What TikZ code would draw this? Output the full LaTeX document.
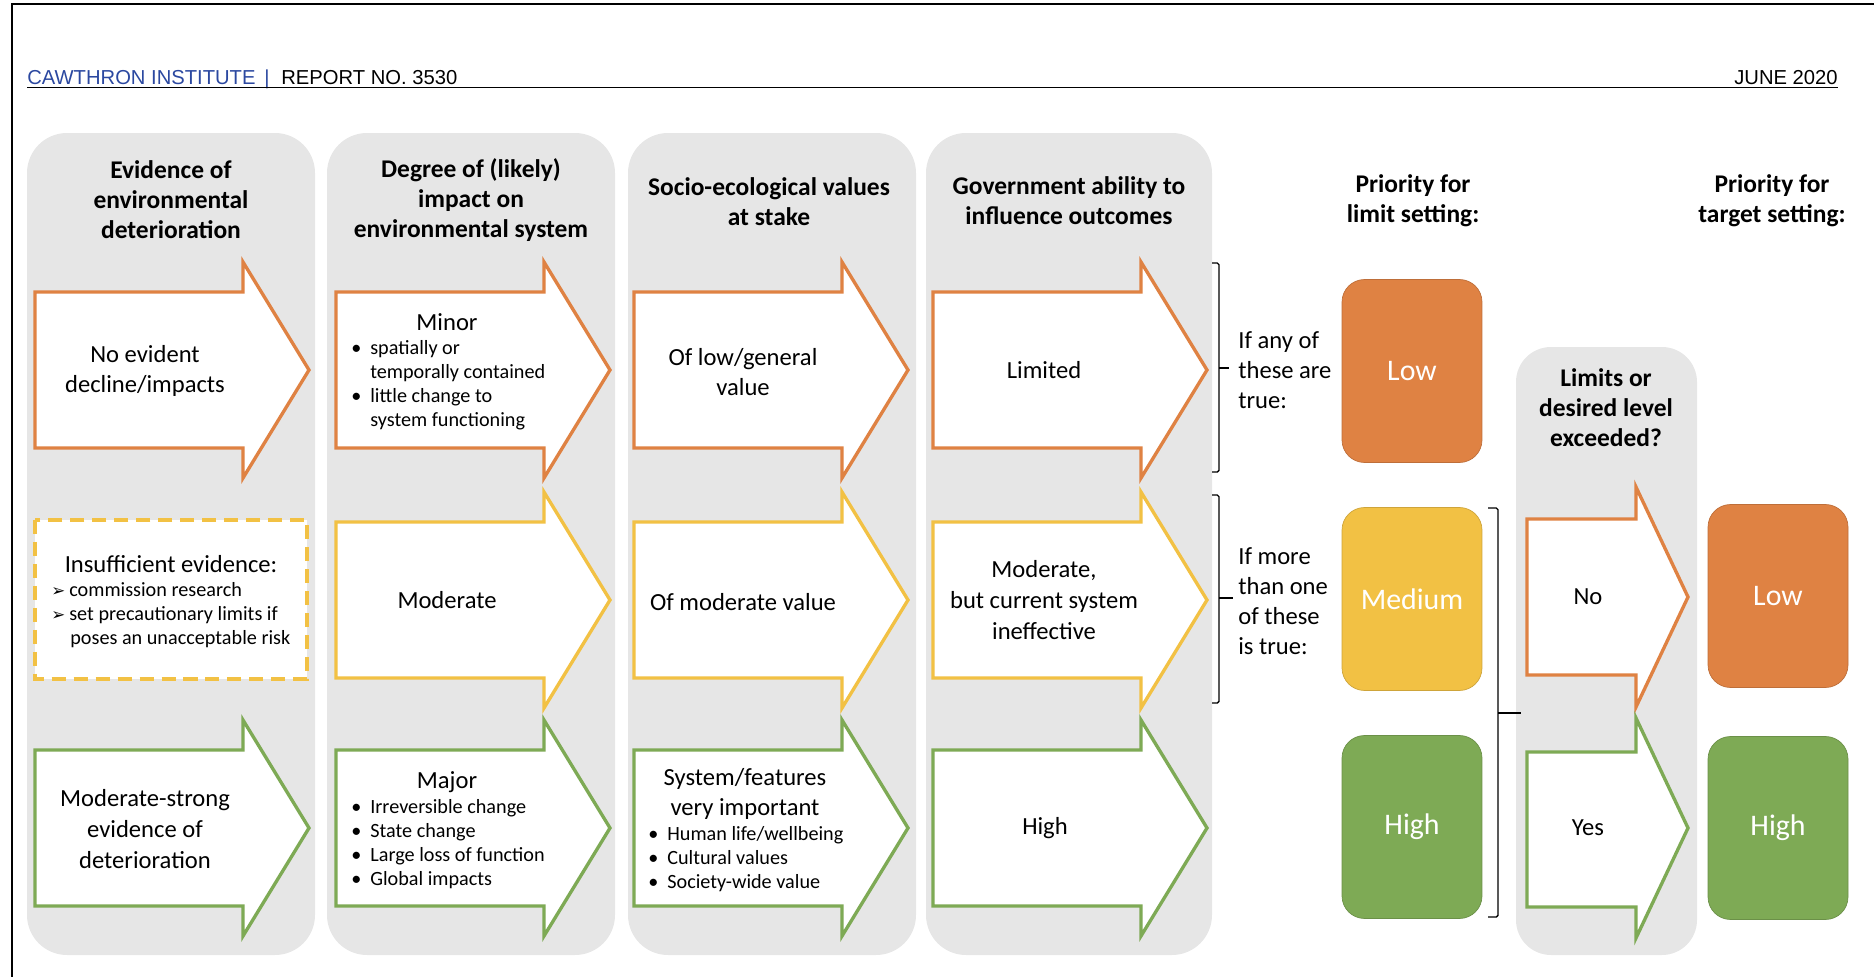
\documentclass[tikz,border=0pt]{standalone}
\usepackage{fontspec}
\setmainfont{Carlito}
\newfontfamily\reportfont{Liberation Sans}
\newfontfamily\dingfont{DejaVu Sans}
\usepackage{xcolor}
\usepackage{tikz}
\usetikzlibrary{positioning}

\definecolor{cawblue}{RGB}{43,72,160}
\definecolor{colgrey}{RGB}{230,230,230}
\definecolor{lowor}{RGB}{223,130,67}
\definecolor{medyel}{RGB}{242,193,68}
\definecolor{highgr}{RGB}{126,170,85}

\newcommand{\bul}{\makebox[0.38cm][l]{\textbullet}}
\newcommand{\nobul}{\hspace*{0.38cm}}
\newcommand{\pointer}{\makebox[0.36cm][l]{\dingfont\fontsize{9.5}{9.5}\selectfont ➢}}

\begin{document}
\begin{tikzpicture}[x=0.02cm, y=-0.02cm,
        colbox/.style={fill=colgrey, rounded corners=0.8cm},
        flow/.style={draw=#1, line width=1.9pt, fill=white},
        headtxt/.style={font=\bfseries\fontsize{14.5}{17}\selectfont, align=center},
        maintxt/.style={font=\fontsize{14}{17.5}\selectfont, align=center},
        listtxt/.style={font=\fontsize{11.5}{13.6}\selectfont, align=left, anchor=west, inner sep=0pt},
        sidetxt/.style={font=\fontsize{14}{17}\selectfont, align=left, anchor=west, inner sep=0pt},
        prio/.style={fill=#1, draw=#1!85!black, rounded corners=0.45cm, minimum width=2.8cm,
            minimum height=3.66cm, text=white, font=\fontsize{17}{20}\selectfont},
        bracketline/.style={draw, line width=0.8pt, rounded corners=1pt},
        pagehead/.style={inner sep=0pt, font=\reportfont\fontsize{11.5}{14}\selectfont}]
        \useasboundingbox (0,0) rectangle (1874,977);

        % page frame and running head
        \draw[line width=1.1pt] (12,977) -- (12,4) -- (1874,4);
        \node[pagehead, anchor=base west, text=cawblue] (inst) at (27,84) {CAWTHRON INSTITUTE};
        \node[pagehead, anchor=base, text=cawblue] (bar) at (267,84) {|};
        \node[pagehead, anchor=base west] (report) at (281,84) {REPORT NO. 3530};
        \node[pagehead, anchor=base east] (date) at (1838,84) {JUNE 2020};
        \draw[line width=1.1pt] (27,87.5) -- (1838,87.5);

        % grey columns
        \fill[colbox] (27,133) rectangle (315,955);
        \fill[colbox] (327,133) rectangle (615,955);
        \fill[colbox] (628,133) rectangle (916,955);
        \fill[colbox] (926,133) rectangle (1212,955);
        \fill[colbox, rounded corners=0.7cm] (1516,347) rectangle (1697,955);

        \node[headtxt] (hdEvid) at (171,200) {Evidence of\\environmental\\deterioration};
        \node[headtxt] (hdImpact) at (471,200) {Degree of (likely)\\impact on\\environmental system};
        \node[headtxt] (hdValue) at (769,202) {Socio-ecological values\\at stake};
        \node[headtxt] (hdGov) at (1069,201) {Government ability to\\influence outcomes};
        \node[headtxt] (hdLimit) at (1413,201) {Priority for\\limit setting:};
        \node[headtxt] (hdTarget) at (1772,201) {Priority for\\target setting:};
        \node[headtxt] (hdExceed) at (1606,408) {Limits or\\desired level\\exceeded?};

        % first row
        \draw[flow=lowor] (35,292) -- (243,292) -- (243,262) -- (309,370) -- (243,478) -- (243,448) -- (35,448) -- cycle;
        \draw[flow=lowor] (336,292) -- (544,292) -- (544,262) -- (610,370) -- (544,478) -- (544,448) -- (336,448) -- cycle;
        \draw[flow=lowor] (634,292) -- (842,292) -- (842,262) -- (908,370) -- (842,478) -- (842,448) -- (634,448) -- cycle;
        \draw[flow=lowor] (933,292) -- (1141,292) -- (1141,262) -- (1207,370) -- (1141,478) -- (1141,448) -- (933,448) -- cycle;

        \node[maintxt] (noDecline) at (145,371) {No evident\\decline/impacts};
        \node[maintxt] (minor) at (447,322) {Minor};
        \node[listtxt] (minorList) at (351,385) {\bul spatially or\\\nobul temporally contained\\\bul little change to\\\nobul system functioning};
        \node[maintxt] (lowValue) at (743,372) {Of low/general\\value};
        \node[maintxt] (limited) at (1044,370) {Limited};

        % second row
        \draw[flow=medyel, dash pattern=on 8pt off 4.5pt] (35,520) rectangle (307,679);
        \draw[flow=medyel] (336,522) -- (544,522) -- (544,492) -- (610,600) -- (544,708) -- (544,678) -- (336,678) -- cycle;
        \draw[flow=medyel] (634,522) -- (842,522) -- (842,492) -- (908,600) -- (842,708) -- (842,678) -- (634,678) -- cycle;
        \draw[flow=medyel] (933,522) -- (1141,522) -- (1141,492) -- (1207,600) -- (1141,708) -- (1141,678) -- (933,678) -- cycle;

        \node[maintxt] (insuff) at (171,564) {Insufficient evidence:};
        \node[listtxt] (insuffList) at (51,615) {\pointer commission research\\\pointer set precautionary limits if\\\nobul poses an unacceptable risk};
        \node[maintxt] (moderate) at (447,600) {Moderate};
        \node[maintxt] (modValue) at (743,602) {Of moderate value};
        \node[maintxt] (modGov) at (1044,600) {Moderate,\\but current system\\ineffective};

        % third row
        \draw[flow=highgr] (35,750) -- (243,750) -- (243,720) -- (309,828) -- (243,936) -- (243,906) -- (35,906) -- cycle;
        \draw[flow=highgr] (336,750) -- (544,750) -- (544,720) -- (610,828) -- (544,936) -- (544,906) -- (336,906) -- cycle;
        \draw[flow=highgr] (634,750) -- (842,750) -- (842,720) -- (908,828) -- (842,936) -- (842,906) -- (634,906) -- cycle;
        \draw[flow=highgr] (933,750) -- (1141,750) -- (1141,720) -- (1207,828) -- (1141,936) -- (1141,906) -- (933,906) -- cycle;

        \node[maintxt] (strong) at (145,829) {Moderate-strong\\evidence of\\deterioration};
        \node[maintxt] (major) at (447,782) {Major};
        \node[listtxt] (majorList) at (351,844) {\bul Irreversible change\\\bul State change\\\bul Large loss of function\\\bul Global impacts};
        \node[maintxt] (important) at (745,794) {System/features\\very important};
        \node[listtxt] (importantList) at (648,859) {\bul Human life/wellbeing\\\bul Cultural values\\\bul Society-wide value};
        \node[maintxt] (highGov) at (1045,828) {High};

        % brackets and conditions
        \draw[bracketline] (1212,263) -- (1219,263) -- (1219,472) -- (1212,472);
        \draw[bracketline] (1219,368) -- (1229,368);
        \node[sidetxt] (anyTrue) at (1238,370) {If any of\\these are\\true:};
        \draw[bracketline] (1212,495) -- (1219,495) -- (1219,703) -- (1212,703);
        \draw[bracketline] (1219,598) -- (1233,598);
        \node[sidetxt] (moreTrue) at (1238,601) {If more\\than one\\of these\\is true:};

        % priority for limit setting
        \node[prio=lowor] (limLow) at (1412,371) {Low};
        \node[prio=medyel] (limMed) at (1412,599) {Medium};
        \node[prio=highgr] (limHigh) at (1412,827) {High};
        \draw[bracketline] (1488,508) -- (1498,508) -- (1498,917) -- (1488,917);
        \draw[bracketline] (1498,713) -- (1521,713);

        % exceeded or not
        \draw[flow=lowor] (1527,519) -- (1636,519) -- (1636,487) -- (1688,597) -- (1636,707) -- (1636,675) -- (1527,675) -- cycle;
        \draw[flow=highgr] (1527,752) -- (1636,752) -- (1636,718) -- (1688,828) -- (1636,938) -- (1636,907) -- (1527,907) -- cycle;
        \node[maintxt] (no) at (1588,597) {No};
        \node[maintxt] (yes) at (1588,828) {Yes};

        % priority for target setting
        \node[prio=lowor] (tgtLow) at (1778,596) {Low};
        \node[prio=highgr] (tgtHigh) at (1778,828) {High};
\end{tikzpicture}
\end{document}
